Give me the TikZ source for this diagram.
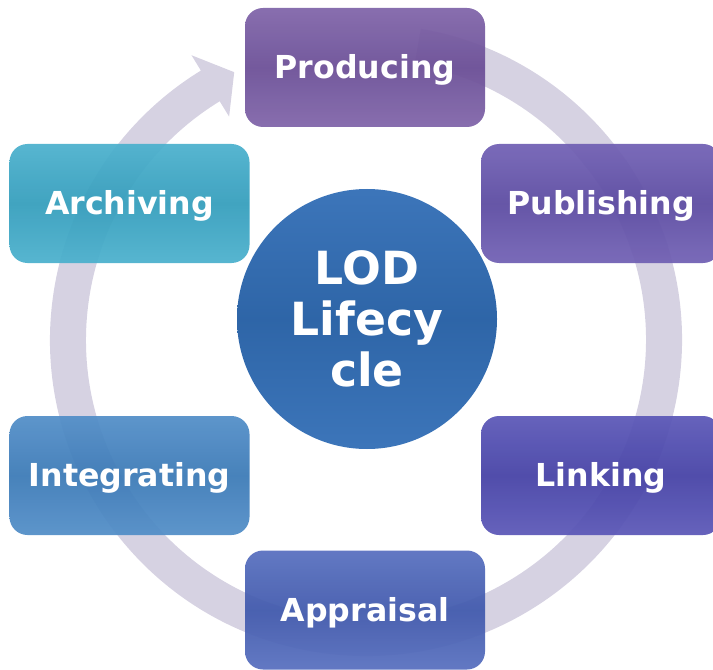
\documentclass[tikz,border=0pt]{standalone}
\usepackage{fontspec}
\setmainfont{DejaVu Sans}
\usepackage{xcolor}
\usepackage{tikz}
\usetikzlibrary{shapes.geometric}

\definecolor{ringgray}{RGB}{214,210,226}
\definecolor{prodcol}{RGB}{114,84,160}
\definecolor{publcol}{RGB}{98,80,172}
\definecolor{linkcol}{RGB}{74,70,176}
\definecolor{apprcol}{RGB}{70,96,184}
\definecolor{integcol}{RGB}{64,130,194}
\definecolor{archcol}{RGB}{56,168,200}
\definecolor{lodcol}{RGB}{50,110,182}

\begin{document}
\begin{tikzpicture}[
		stage/.style={rectangle, rounded corners=0.36cm, minimum width=4.8cm, minimum height=2.38cm,
			top color=#1!90!white, bottom color=#1!90!white, middle color=#1!94!black,
			fill opacity=0.94, text opacity=1, text=white, text height=13pt, text depth=0pt,
			font=\fontsize{18}{20}\selectfont\bfseries},
		hub/.style={circle, minimum size=5.2cm, inner sep=0pt, align=center,
			top color=lodcol!95!white, bottom color=lodcol!95!white, middle color=lodcol!92!black,
			text=white, font=\fontsize{26}{29}\selectfont\bfseries},
		ring/.style={fill=ringgray, draw=none}
	]
	
	\useasboundingbox (0,0) rectangle (14.26,-13.4);
	
	% ==========================================
	% Vong mui ten (chay theo chieu kim dong ho)
	% ==========================================
	\coordinate (c) at (7.32,-6.8);
	\fill[ring] ([shift={(c)}]80:6.32) arc[start angle=80, end angle=-238.5, radius=6.32]
		-- ([shift={(c)}]-238.5:6.68)
		-- ([shift={(c)}]-243.8:5.97)
		-- ([shift={(c)}]-238.5:5.24)
		-- ([shift={(c)}]-238.5:5.60) arc[start angle=-238.5, end angle=80, radius=5.60]
		-- cycle;
	
	% ==========================================
	% Cac giai doan
	% ==========================================
	\node[stage=prodcol] (producing) at (7.30,-1.35) {Producing};
	\node[stage=publcol] (publishing) at (12.02,-4.07) {Publishing};
	\node[stage=linkcol] (linking) at (12.02,-9.51) {Linking};
	\node[stage=apprcol] (appraisal) at (7.30,-12.20) {Appraisal};
	\node[stage=integcol] (integrating) at (2.59,-9.51) {Integrating};
	\node[stage=archcol] (archiving) at (2.59,-4.07) {Archiving};
	
	% -- Vong tron giua --
	\node[hub] (lod) at (7.34,-6.38) {LOD\\Lifecy\\cle};
	
\end{tikzpicture}
\end{document}
